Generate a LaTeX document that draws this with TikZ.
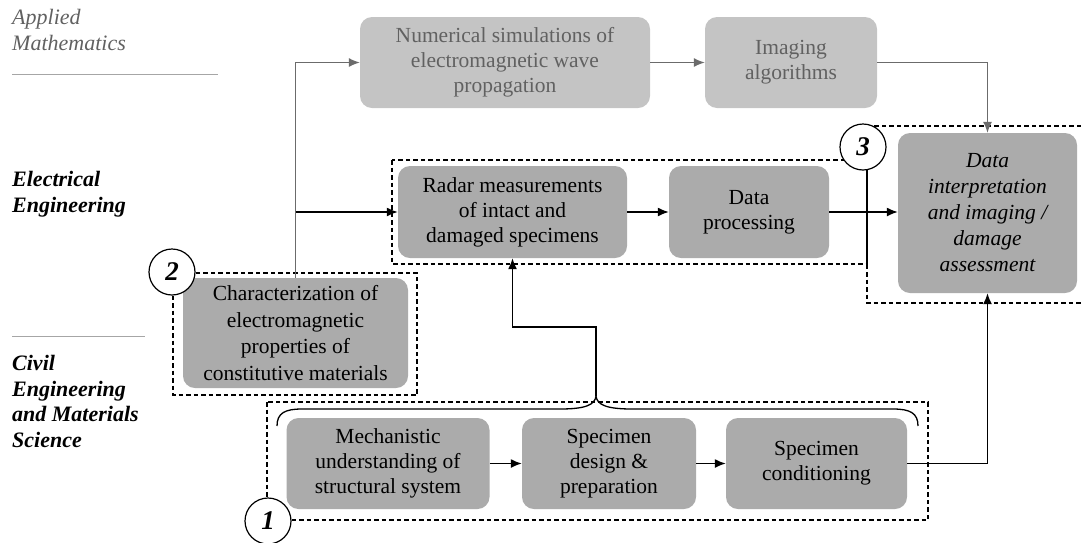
\documentclass[tikz,border=0pt]{standalone}
\usepackage{fontspec}
\setmainfont{Liberation Serif}
\usetikzlibrary{arrows.meta}
\definecolor{boxgray}{gray}{0.67}
\definecolor{topgray}{gray}{0.77}
\definecolor{toptext}{gray}{0.38}
\definecolor{topline}{gray}{0.42}
\tikzset{
  mainbox/.style={draw=none, fill=boxgray, rounded corners=12pt, align=center, inner sep=0pt,
    font=\fontsize{21.5}{25}\selectfont},
  topbox/.style={draw=none, fill=topgray, rounded corners=12pt, align=center, inner sep=0pt,
    text=toptext, font=\fontsize{21.5}{25}\selectfont},
  conn/.style={line width=1.4pt, -{Latex[length=11pt,width=9pt]}},
  topconn/.style={line width=1.2pt, draw=topline, -{Latex[length=11pt,width=9pt]}},
  groupbox/.style={line width=1.3pt, dash pattern=on 4.5pt off 3pt},
  numcircle/.style={circle, draw, line width=1.2pt, fill=white, minimum size=46pt, inner sep=0pt,
    font=\fontsize{27}{27}\selectfont\bfseries\itshape},
  disc/.style={anchor=north west, align=left, inner sep=0pt, font=\fontsize{22}{25.7}\selectfont\itshape},
  sepline/.style={line width=1pt, draw=gray!70}
}
\begin{document}
\begin{tikzpicture}[x=1pt,y=-1pt]
\useasboundingbox (0,0) rectangle (1081,542);

% discipline labels
\node[disc, text=toptext] (am) at (12,9) {Applied\\Mathematics};
\node[disc, font=\fontsize{22}{25.7}\selectfont\bfseries\itshape] (ee) at (12,171) {Electrical\\Engineering};
\node[disc, font=\fontsize{22}{25.7}\selectfont\bfseries\itshape] (ce) at (12,355) {Civil\\Engineering\\and Materials\\Science};
\coordinate (l1a) at (12,74); \coordinate (l1b) at (218,74);
\coordinate (l2a) at (12,336); \coordinate (l2b) at (145,336);
\draw[sepline] (l1a) -- (l1b);
\draw[sepline] (l2a) -- (l2b);

% boxes
\node[topbox, minimum width=290pt, minimum height=91pt] (num) at (505,62.5)
  {Numerical simulations of\\electromagnetic wave\\propagation};
\node[topbox, minimum width=172pt, minimum height=91pt] (img) at (791,62.5)
  {Imaging\\algorithms};
\node[mainbox, minimum width=229pt, minimum height=92pt] (radar) at (512.5,212)
  {Radar measurements\\of intact and\\damaged specimens};
\node[mainbox, minimum width=160pt, minimum height=92pt] (dp) at (749,212)
  {Data\\processing};
\node[mainbox, minimum width=179pt, minimum height=160pt, font=\fontsize{21.5}{26}\selectfont\itshape] (interp) at (987.5,213)
  {Data\\interpretation\\and imaging /\\damage\\assessment};
\node[mainbox, minimum width=225pt, minimum height=110pt, font=\fontsize{21.5}{26.5}\selectfont] (char) at (295.5,333)
  {Characterization of\\electromagnetic\\properties of\\constitutive materials};
\node[mainbox, minimum width=203pt, minimum height=91pt] (mech) at (388,463.5)
  {Mechanistic\\understanding of\\structural system};
\node[mainbox, minimum width=174pt, minimum height=91pt] (spec) at (609,463.5)
  {Specimen\\design \&\\preparation};
\node[mainbox, minimum width=181pt, minimum height=91pt] (cond) at (816.5,463.5)
  {Specimen\\conditioning};

% dashed groups
\draw[groupbox] (392,160) rectangle (867,264);
\draw[groupbox] (1081,126) -- (867,126) -- (867,303) -- (1081,303);
\draw[groupbox] (173,273) rectangle (417,395);
\draw[groupbox] (267,402) rectangle (928,520);

% brace
\coordinate (brtip) at (596,396);
\draw[line width=1.3pt] (277,426) .. controls (277,413) and (285,409) .. (302,409) -- (560,409)
  .. controls (585,409) and (595,405) .. (brtip)
  .. controls (597,405) and (607,409) .. (632,409) -- (893,409)
  .. controls (910,409) and (918,413) .. (918,426);

% connectors
\draw[topconn] (char.north) |- (num.west);
\draw[conn] (char.north |- radar.west) -- (radar.west);
\draw[topconn] (num.east) -- (img.west);
\draw[topconn] (img.east) -| (interp.north);
\draw[conn] (radar.east) -- (dp.west);
\draw[conn] (dp.east) -- (interp.west |- dp.east);
\draw[conn] (mech.east) -- (spec.west);
\draw[conn] (spec.east) -- (cond.west);
\draw[conn] (cond.east) -| (interp.south);
\draw[conn] (brtip) -- ++(0,-69) -| (radar.south);

% numbered circles
\node[numcircle] (c1) at (268,521) {1};
\node[numcircle] (c2) at (172,272) {2};
\node[numcircle] (c3) at (863,147) {3};
\end{tikzpicture}
\end{document}
